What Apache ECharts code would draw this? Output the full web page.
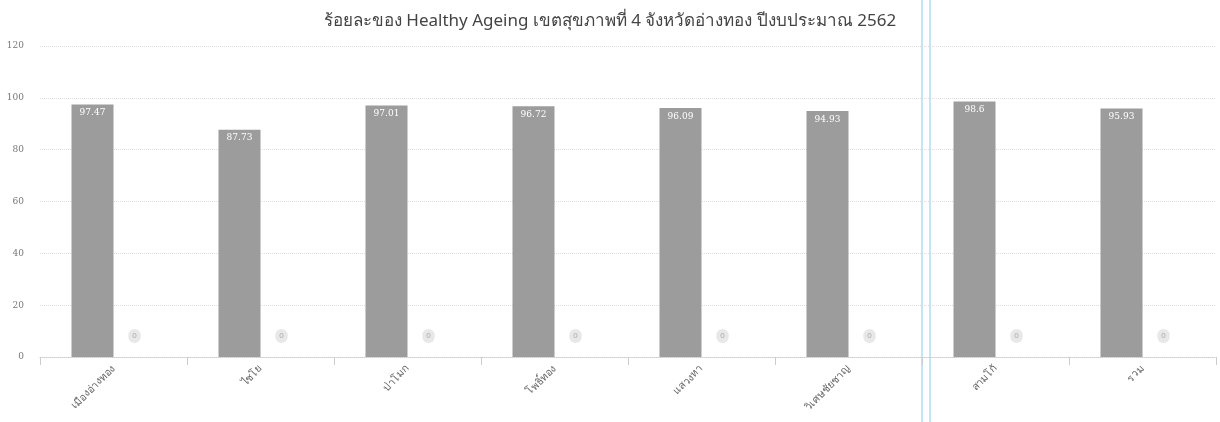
<!DOCTYPE html>
<html>
<head>
<meta charset="utf-8">
<script src="https://cdn.jsdelivr.net/npm/echarts@6/dist/echarts.min.js"></script>
<style>
html,body{margin:0;padding:0;background:#fff;}
#c{width:1220px;height:422px;}
</style>
</head>
<body>
<div id="c"></div>
<script>
const titleText = 'ร้อยละของ Healthy Ageing เขตสุขภาพที่ 4 จังหวัดอ่างทอง ปีงบประมาณ 2562';
const categories = ['เมืองอ่างทอง', 'ไชโย', 'ป่าโมก', 'โพธิ์ทอง', 'แสวงหา', 'วิเศษชัยชาญ', 'สามโก้', 'รวม'];
const percentValues = [97.47, 87.73, 97.01, 96.72, 96.09, 94.93, 98.6, 95.93];
const secondValues = [0, 0, 0, 0, 0, 0, 0, 0];
const yTicks = [0, 20, 40, 60, 80, 100, 120];

const chart = echarts.init(document.getElementById('c'));
chart.setOption({
  backgroundColor: '#fff',
  animation: false,
  title: {
    text: titleText,
    left: 'center',
    top: 8,
    textStyle: { fontFamily: 'Noto Sans, DejaVu Sans, sans-serif', fontSize: 17, fontWeight: 'normal', color: '#444' }
  },
  grid: { left: 40, right: 4, top: 46, bottom: 65 },
  xAxis: {
    type: 'category',
    data: categories,
    axisLine: { lineStyle: { color: '#ccc', type: 'dotted' } },
    axisTick: { show: true, length: 8, lineStyle: { color: '#ccc' } },
    axisLabel: { rotate: 45, fontSize: 10.5, color: '#666', margin: 10, fontFamily: 'Noto Sans, sans-serif' }
  },
  yAxis: {
    type: 'value',
    min: yTicks[0],
    max: yTicks[yTicks.length - 1],
    interval: yTicks[1] - yTicks[0],
    axisLine: { show: false },
    axisTick: { show: false },
    axisLabel: { fontSize: 9, color: '#777', margin: 16, fontFamily: 'DejaVu Serif, serif' },
    splitLine: { lineStyle: { color: '#ddd', type: 'dotted' } }
  },
  series: [
    {
      type: 'bar',
      data: percentValues,
      barWidth: 42,
      barGap: '0%',
      itemStyle: { color: '#9c9c9c' },
      label: {
        show: true,
        position: 'insideTop',
        distance: 4,
        color: '#fff',
        fontSize: 9,
        fontFamily: 'DejaVu Serif, serif'
      }
    },
    {
      type: 'bar',
      data: secondValues,
      barWidth: 42,
      itemStyle: { color: '#c8c8c8' },
      label: {
        show: true,
        position: 'top',
        distance: 14,
        color: '#aaa',
        fontSize: 8,
        backgroundColor: '#e8e8e8',
        borderRadius: 7,
        padding: [3, 4],
        formatter: '{c}'
      }
    }
  ],
  graphic: [
    { type: 'line', shape: { x1: 922, y1: 0, x2: 922, y2: 422 }, style: { stroke: '#a8e0ee', lineWidth: 1.5 } },
    { type: 'line', shape: { x1: 930, y1: 0, x2: 930, y2: 422 }, style: { stroke: '#a8e0ee', lineWidth: 1.5 } }
  ]
});
</script>
</body>
</html>
